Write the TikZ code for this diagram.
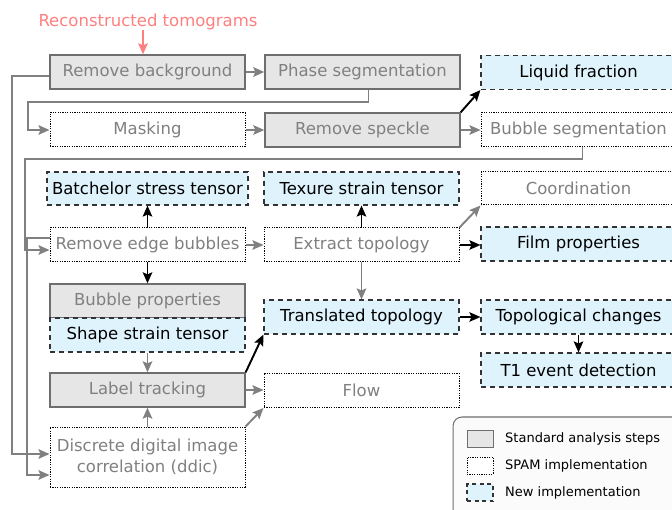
\documentclass[tikz,border=0pt]{standalone}
\usepackage{fontspec}
\setmainfont{DejaVu Sans}
\usetikzlibrary{arrows.meta}
\definecolor{stdfill}{HTML}{E6E6E6}
\definecolor{stdline}{HTML}{6E6E6E}
\definecolor{newfill}{HTML}{DFF3FC}
\definecolor{txtgray}{HTML}{808080}
\definecolor{linkgray}{HTML}{808080}
\definecolor{inred}{HTML}{FF7F7F}
\definecolor{legfill}{HTML}{FBFBFB}
\tikzset{
  box/.style={minimum width=195pt, minimum height=34pt, inner sep=0pt,
    font=\fontsize{16.5}{21}\selectfont, align=center},
  stdbox/.style={box, fill=stdfill, draw=stdline, line width=1.3pt, text=txtgray},
  spambox/.style={box, fill=white, draw=black, line width=1pt,
    dash pattern=on 1.2pt off 1.2pt, text=txtgray},
  newbox/.style={box, fill=newfill, draw=black!80, line width=1.1pt,
    dash pattern=on 5pt off 4pt, text=black},
  tip/.style={-{Stealth[length=11pt,width=9.5pt,inset=2pt]}},
  glink/.style={tip, draw=linkgray, line width=1.9pt},
  blink/.style={tip, draw=black, line width=1.9pt},
  legtxt/.style={font=\fontsize{13}{15}\selectfont, anchor=west, inner sep=0pt},
}
\begin{document}
\begin{tikzpicture}[x=1pt, y=-1pt]
\useasboundingbox (0,0) rectangle (672,510);

% input label
\node[inner sep=0pt, text=inred, font=\fontsize{16.5}{19}\selectfont] (input) at (148,22) {Reconstructed tomograms};

% row 1
\node[stdbox] (rb) at (147.5,72) {Remove background};
\node[stdbox] (ps) at (362.5,72) {Phase segmentation};
\node[newbox] (lf) at (578.5,72.5) {Liquid fraction};
% row 2
\node[spambox] (mask) at (147.5,130) {Masking};
\node[stdbox] (rs) at (362.5,130) {Remove speckle};
\node[spambox] (bs) at (578.5,130) {Bubble segmentation};
% row 3
\node[newbox, minimum width=201pt, minimum height=33pt] (bst) at (147.5,188.5) {Batchelor stress tensor};
\node[newbox, minimum height=33pt] (tst) at (361.5,188.5) {Texure strain tensor};
\node[spambox, minimum height=33pt] (coord) at (578.5,188.5) {Coordination};
% row 4
\node[spambox] (reb) at (147.5,245) {Remove edge bubbles};
\node[spambox] (et) at (361.5,245) {Extract topology};
\node[newbox] (fp) at (578.5,244) {Film properties};
% row 5
\node[stdbox] (bp) at (147.5,301) {Bubble properties};
\node[newbox] (sst) at (147.5,335) {Shape strain tensor};
\node[newbox] (tt) at (361.5,317) {Translated topology};
\node[newbox] (tc) at (578.5,317) {Topological changes};
\node[newbox] (t1) at (578.5,370) {T1 event detection};
% row 6
\node[stdbox] (lt) at (147.5,390) {Label tracking};
\node[spambox] (flow) at (361.5,390.5) {Flow};
\node[spambox, minimum height=60pt] (ddic) at (147.5,457) {Discrete digital image\\correlation (ddic)};

% routing corners
\coordinate (c1) at (28,102);
\coordinate (c2) at (25,159);
\coordinate (c3) at (12,300);
\coordinate (c4) at (27,300);

% connectors
\draw[tip, draw=inred, line width=1.9pt] ([xshift=-5pt]input.south) -- ([xshift=-4.5pt]rb.north);
\draw[glink] (rb) -- (ps);
\draw[glink] ([xshift=6pt]ps.south) |- (c1) |- (mask.west);
\draw[glink] (mask) -- (rs);
\draw[glink] (rs) -- (bs);
\draw[blink] (rs.north east) -- (lf.south west);
\draw[glink] ([xshift=4pt]bs.south) |- (c2) |- ([yshift=-5pt]reb.west);
\draw[glink] ([yshift=-4pt]rb.west) -| (c3) |- ([yshift=3pt]ddic.west);
\draw[glink] ([yshift=7pt]reb.west) -| (c4) |- ([yshift=-18pt]ddic.west);
\draw[glink] (reb) -- (et);
\draw[blink] (reb.north) -- (bst.south);
\draw[blink] (reb.south) -- (bp.north);
\draw[blink] (et.north) -- (tst.south);
\draw[glink] (et.north east) -- (coord.south west);
\draw[blink] (et.east) -- (fp.west |- et.east);
\draw[glink] (et.south) -- (tt.north);
\draw[blink] (tt) -- (tc);
\draw[blink] (tc.south) -- (t1.north);
\draw[glink] (sst.south) -- (lt.north);
\draw[glink] (ddic.north) -- (lt.south);
\draw[glink] (lt.east) -- (flow.west |- lt.east);
\draw[blink] (lt.north east) -- (tt.south west);
\draw[glink] (ddic.north east) -- (flow.south west);

% legend
\draw[draw=stdline, fill=legfill, line width=1pt, rounded corners=9pt] (453,417) rectangle (700,540);
\node[stdbox, minimum width=26pt, minimum height=17pt, line width=1pt] (k1) at (480,438.5) {};
\node[spambox, minimum width=26pt, minimum height=17pt] (k2) at (480,465.5) {};
\node[newbox, minimum width=26pt, minimum height=17pt, dash pattern=on 4pt off 3.5pt] (k3) at (480,492.5) {};
\node[legtxt] (l1) at (505,439) {Standard analysis steps};
\node[legtxt] (l2) at (505,466) {SPAM implementation};
\node[legtxt] (l3) at (505,493) {New implementation};
\end{tikzpicture}
\end{document}
